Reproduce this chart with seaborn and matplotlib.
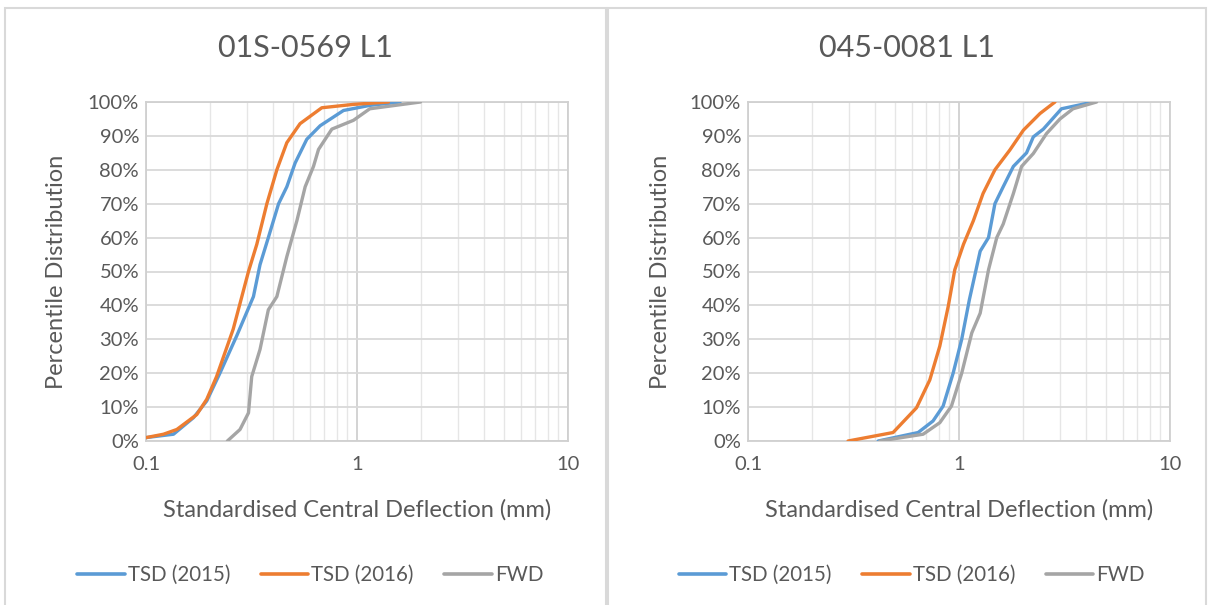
import numpy as np
import pandas as pd
import seaborn as sns
import matplotlib
matplotlib.use("Agg")
import matplotlib.pyplot as plt
from matplotlib.patches import Rectangle
from matplotlib.ticker import FixedLocator, FuncFormatter, NullFormatter

# ---------------- data ----------------
titles = ["01S-0569 L1", "045-0081 L1"]
series_names = ["TSD (2015)", "TSD (2016)", "FWD"]

# Panel 1: 01S-0569 L1
p1_tsd2015_x = [0.100, 0.135, 0.168, 0.194, 0.224, 0.269, 0.323, 0.347, 0.380, 0.425, 0.465, 0.509, 0.578, 0.669, 0.863, 1.15, 1.60]
p1_tsd2015_y = [1, 2, 6.9, 11.8, 20, 31, 42.6, 52, 60, 70, 75, 82, 89, 93, 97.5, 99, 100]
p1_tsd2016_x = [0.100, 0.121, 0.140, 0.174, 0.194, 0.216, 0.259, 0.306, 0.335, 0.374, 0.417, 0.465, 0.537, 0.681, 0.962, 1.41]
p1_tsd2016_y = [1, 2, 3.4, 7.8, 12.3, 19, 33, 50, 58, 70, 80, 88, 93.6, 98.3, 99.3, 100]
p1_fwd_x = [0.243, 0.279, 0.306, 0.317, 0.347, 0.380, 0.417, 0.465, 0.519, 0.568, 0.622, 0.657, 0.760, 0.962, 1.15, 2.00]
p1_fwd_y = [0, 3.4, 8.3, 19, 27, 38.7, 42.6, 54.4, 65, 75, 81, 86, 92, 94.6, 98, 100]

# Panel 2: 045-0081 L1
p2_tsd2015_x = [0.414, 0.640, 0.753, 0.841, 0.938, 1.03, 1.12, 1.26, 1.38, 1.48, 1.62, 1.81, 2.09, 2.25, 2.51, 3.06, 4.33]
p2_tsd2015_y = [0, 2.5, 5.9, 10.3, 20, 30, 41.7, 56, 60, 70, 75, 81, 85, 89.7, 92, 98, 100]
p2_tsd2016_x = [0.298, 0.487, 0.629, 0.727, 0.811, 0.889, 0.955, 1.05, 1.17, 1.30, 1.48, 1.74, 2.02, 2.42, 2.85]
p2_tsd2016_y = [0, 2.5, 9.8, 18, 28, 39.7, 50.5, 58, 65, 73, 80, 85.8, 91.7, 96.6, 100]
p2_fwd_x = [0.422, 0.676, 0.811, 0.921, 1.03, 1.15, 1.26, 1.38, 1.51, 1.62, 1.81, 1.98, 2.25, 2.60, 3.01, 3.47, 4.49]
p2_fwd_y = [0, 2, 5.4, 10.3, 20, 31.9, 37.7, 50.5, 60, 64, 73, 81, 84.8, 90.7, 95, 98, 100]

x_ticks = [0.1, 1, 10]
x_tick_labels = ["0.1", "1", "10"]
y_ticks = list(range(0, 101, 10))

colors = ["#5B9BD5", "#ED7D31", "#A5A5A5"]
TEXT = "#595959"

def make_df(xs, ys):
    rows = []
    for name, x, y in zip(series_names, xs, ys):
        for i, (a, b) in enumerate(zip(x, y)):
            rows.append({"series": name, "order": i, "x": a, "y": b})
    return pd.DataFrame(rows)

panels = [
    make_df([p1_tsd2015_x, p1_tsd2016_x, p1_fwd_x], [p1_tsd2015_y, p1_tsd2016_y, p1_fwd_y]),
    make_df([p2_tsd2015_x, p2_tsd2016_x, p2_fwd_x], [p2_tsd2015_y, p2_tsd2016_y, p2_fwd_y]),
]

sns.set_theme(style="white")
plt.rcParams["font.family"] = ["Lato", "DejaVu Sans"]

W, H = 1208, 605
fig = plt.figure(figsize=(W / 100, H / 100), dpi=100)

# panel borders (chart areas)
fig.patches.append(Rectangle((5 / W, -0.01), (606 - 5) / W, (H - 8) / H + 0.01,
                             transform=fig.transFigure, fill=False, edgecolor="#D9D9D9", lw=1.5))
fig.patches.append(Rectangle((608 / W, -0.01), (1206 - 608) / W, (H - 8) / H + 0.01,
                             transform=fig.transFigure, fill=False, edgecolor="#D9D9D9", lw=1.5))

axes_left_px = [146, 748]
panel_centers = [305.5, 907]
ax_w = 422
ax_top, ax_bot = 102, 441

for k, df in enumerate(panels):
    ax = fig.add_axes([axes_left_px[k] / W, (H - ax_bot) / H, ax_w / W, (ax_bot - ax_top) / H])
    ax.set_xscale("log")
    ax.set_xlim(0.1, 10)
    ax.set_ylim(0, 100)

    # gridlines
    minor = [m * 10.0 ** e for e in (-1, 0) for m in range(2, 10)]
    for v in minor:
        ax.axvline(v, color="#E6E6E6", lw=1.0, zorder=0)
    for v in x_ticks:
        ax.axvline(v, color="#D0D0D0", lw=1.3, zorder=0)
    for v in y_ticks:
        ax.axhline(v, color="#D9D9D9", lw=1.3, zorder=0)

    sns.lineplot(data=df, x="x", y="y", hue="series", hue_order=series_names,
                 palette=colors, estimator=None, sort=False, units="series",
                 lw=2.4, ax=ax, legend=False, zorder=3)

    ax.xaxis.set_major_locator(FixedLocator(x_ticks))
    ax.xaxis.set_minor_formatter(NullFormatter())
    ax.set_xticklabels(x_tick_labels)
    ax.set_yticks(y_ticks)
    ax.yaxis.set_major_formatter(FuncFormatter(lambda v, p: f"{int(v)}%"))
    ax.tick_params(axis="both", length=0, labelsize=14.5, colors=TEXT)
    ax.tick_params(axis="x", pad=11)
    ax.tick_params(axis="y", pad=5)
    for s in ax.spines.values():
        s.set_color("#D0D0D0")
        s.set_linewidth(1.3)

    ax.set_xlabel("Standardised Central Deflection (mm)", fontsize=17, color=TEXT)
    ax.xaxis.set_label_coords(0.5, -(510 - ax_bot) / (ax_bot - ax_top))
    ax.xaxis.label.set_va("center")
    ax.set_ylabel("Percentile Distribution", fontsize=17, color=TEXT)
    ax.yaxis.set_label_coords(-(axes_left_px[k] - (57 + k * 603)) / ax_w, 0.5)
    ax.yaxis.label.set_va("center")

    fig.text(panel_centers[k] / W, (H - 48) / H, titles[k], ha="center", va="center",
             fontsize=22, color=TEXT)

    handles = [plt.Line2D([], [], color=c, lw=2.6) for c in colors]
    fig.legend(handles, series_names, loc="center", ncol=3, frameon=False,
               bbox_to_anchor=(panel_centers[k] / W + 0.004, 30 / H),
               fontsize=14.8, labelcolor=TEXT, handlelength=2.3, handletextpad=0.15,
               columnspacing=1.5)

fig.savefig("out.png", dpi=100)
